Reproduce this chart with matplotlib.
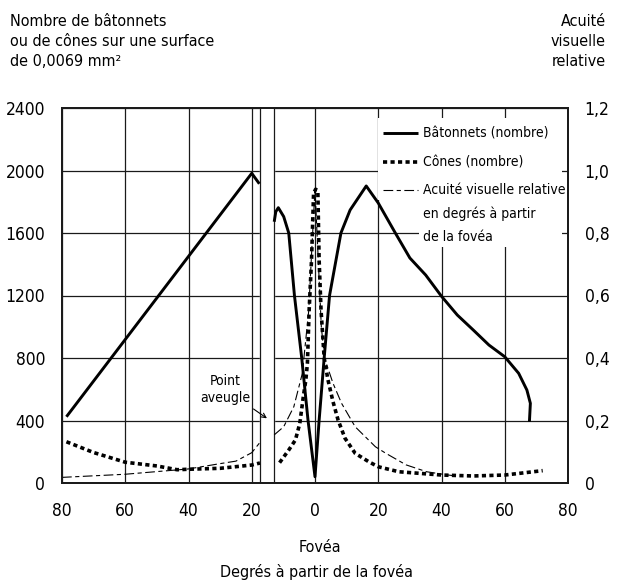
import matplotlib
matplotlib.use("Agg")
from matplotlib import pyplot as plt
from matplotlib import font_manager
from matplotlib.patches import Rectangle

# look for a condensed / narrow font, the original uses one
font, stretch, scale = 'Roboto', 'normal', 0.95
for f in font_manager.fontManager.ttflist:
    narrow = 'Narrow' in f.name or 'Condensed' in f.name or f.stretch in ('condensed', 'semi-condensed')
    if narrow and f.style == 'normal' and f.weight in (400, 'normal', 'regular', 'book'):
        font, scale = f.name, 1.0
        stretch = f.stretch if f.stretch in ('condensed', 'semi-condensed') else 'normal'
        break
plt.rcParams['font.family'] = [font, 'DejaVu Sans']
plt.rcParams['font.stretch'] = stretch
plt.rcParams['lines.scale_dashes'] = False
fs_text = 11.5 * scale
fs_tick = 12.5 * scale
fs_small = 10 * scale

# Data (degrees from fovea, left side negative)
rods_left_x = [-78.6, -20, -17.6]
rods_left_y = [424, 1982, 1915]
rods_right_x = [-12.9, -12.4, -11.6, -9.9, -8.3, -6.5, -4.2, -2.2, 0, 1.3, 2.9, 4.6, 8.2,
                11.1, 16.2, 20, 25.4, 30, 35, 40, 45, 50, 55, 60, 64.4, 67, 68.1, 67.8]
rods_right_y = [1672, 1736, 1762, 1705, 1600, 1200, 800, 400, 40, 400, 800, 1200, 1600,
                1747, 1901, 1792, 1600, 1440, 1331, 1195, 1075, 980, 883, 808, 702, 595, 510, 392]

cones_left_x = [-78.6, -70, -60, -50, -43.6, -40, -30, -20, -17.4]
cones_left_y = [264, 195, 133, 109, 85, 88, 94, 115, 128]
cones_right_x = [-11.2, -8.3, -6.2, -4.8, -3.7, -2.9, -2.4, -1.85, -1.1, -0.45, 0.2, 0.9, 1.3,
                 1.9, 2.9, 4.1, 5.7, 7.3, 9.5, 12.7, 17, 20, 26.5, 40, 50, 60, 72]
cones_right_y = [130, 211, 275, 382, 552, 659, 766, 1107, 1427, 1854, 1880, 1870, 1430,
                 1110, 800, 660, 520, 403, 286, 190, 136, 104, 72, 51, 45, 51, 79]

acuity_left_x = [-80, -60, -40, -30, -25, -20, -17.4]
acuity_left_y = [0.018, 0.028, 0.045, 0.062, 0.07, 0.097, 0.13]
acuity_right_x = [-12.9, -9.9, -6.7, -4.0, -2.0, -1.0, 0, 1.0, 2.0, 3.0, 5.7, 8.4, 12.7,
                  15.9, 19.1, 22.4, 28.8, 35.3, 41.7, 45]
acuity_right_y = [0.154, 0.18, 0.244, 0.351, 0.55, 0.75, 0.94, 0.72, 0.5, 0.40, 0.319, 0.255, 0.18,
                  0.148, 0.116, 0.095, 0.058, 0.036, 0.026, 0.022]

blind_spot = (-17.4, -12.9)

x_ticks = [-80, -60, -40, -20, 0, 20, 40, 60, 80]
x_labels = ['80', '60', '40', '20', '0', '20', '40', '60', '80']
left_ticks = [0, 400, 800, 1200, 1600, 2000, 2400]
right_ticks = [0, 0.2, 0.4, 0.6, 0.8, 1.0, 1.2]
right_labels = ['0', '0,2', '0,4', '0,6', '0,8', '1,0', '1,2']

fig = plt.figure(figsize=(6.18, 5.85), dpi=100)
ax = fig.add_axes([62 / 618, 102 / 585, 506 / 618, 375 / 585])
ax2 = ax.twinx()

ax.set_xlim(-80, 80)
ax.set_ylim(0, 2400)
ax2.set_ylim(0, 1.2)

ax.set_axisbelow(True)
ax.grid(True, color='#1a1a1a', lw=0.9)

# blind spot: white band with edges
ax.axvspan(*blind_spot, color='white', zorder=1)
for b in blind_spot:
    ax.axvline(b, color='#1a1a1a', lw=0.9, zorder=1.1)

rod_style = dict(color='black', lw=2.1, solid_capstyle='butt', solid_joinstyle='round')
cone_style = dict(color='black', lw=2.6, dashes=(3.0, 2.4), dash_capstyle='butt')
acu_style = dict(color='black', lw=0.8, dashes=(7, 2.5, 3, 2.5))

ax.plot(rods_left_x, rods_left_y, zorder=3, **rod_style)
ax.plot(rods_right_x, rods_right_y, zorder=3, **rod_style)
ax.plot(cones_left_x, cones_left_y, zorder=3, **cone_style)
ax.plot(cones_right_x, cones_right_y, zorder=3, **cone_style)
ax2.plot(acuity_left_x, acuity_left_y, **acu_style)
ax2.plot(acuity_right_x, acuity_right_y, **acu_style)

ax.set_xticks(x_ticks)
ax.set_xticklabels(x_labels, fontsize=fs_tick)
ax.set_yticks(left_ticks)
ax.set_yticklabels([str(t) for t in left_ticks], fontsize=fs_tick)
ax2.set_yticks(right_ticks)
ax2.set_yticklabels(right_labels, fontsize=fs_tick)
ax.tick_params(axis='x', length=0, pad=14)
ax.tick_params(axis='y', length=0, pad=12)
ax2.tick_params(axis='y', length=0, pad=12)

for a in (ax, ax2):
    for s in a.spines.values():
        s.set_linewidth(1.3)
        s.set_color('#1a1a1a')

ax.annotate('Point\naveugle', xy=(-15.2, 414), xytext=(-28.4, 600),
            ha='center', va='center', linespacing=1.25, fontsize=fs_small,
            arrowprops=dict(arrowstyle='->', lw=0.8, color='black',
                            shrinkA=2, shrinkB=0, mutation_scale=8))

# legend drawn by hand: white block (with a notch where the rods curve passes),
# keys and texts
ax.add_patch(Rectangle((0.625, 0.755), 0.363, 0.218, transform=ax.transAxes,
                       facecolor='white', edgecolor='none', zorder=2))
ax.add_patch(Rectangle((0.706, 0.629), 0.282, 0.13, transform=ax.transAxes,
                       facecolor='white', edgecolor='none', zorder=2))
key_x = [0.634, 0.703]
ax.plot(key_x, [0.933, 0.933], transform=ax.transAxes, zorder=4, **rod_style)
ax.plot(key_x, [0.856, 0.856], transform=ax.transAxes, zorder=4, **cone_style)
ax.plot(key_x, [0.781, 0.781], transform=ax.transAxes, zorder=4, **acu_style)
legend_lines = [('Bâtonnets (nombre)', 0.933), ('Cônes (nombre)', 0.856),
                ('Acuité visuelle relative', 0.781), ('en degrés à partir', 0.719),
                ('de la fovéa', 0.656)]
for txt, yy in legend_lines:
    ax.text(0.713, yy, txt, transform=ax.transAxes, ha='left', va='center',
            fontsize=fs_small, zorder=4)

fig.text(10 / 618, 1 - 14 / 585, 'Nombre de bâtonnets\nou de cônes sur une surface\nde 0,0069 mm²',
         ha='left', va='top', linespacing=1.4, fontsize=fs_text)
fig.text(606 / 618, 1 - 14 / 585, 'Acuité\nvisuelle\nrelative', ha='right', va='top',
         linespacing=1.4, fontsize=fs_text)
fig.text(320 / 618, 1 - 548 / 585, 'Fovéa', ha='center', va='center', fontsize=fs_text)
fig.text(316 / 618, 1 - 572 / 585, 'Degrés à partir de la fovéa', ha='center', va='center',
         fontsize=fs_text)

fig.savefig('out.png', dpi=100)
